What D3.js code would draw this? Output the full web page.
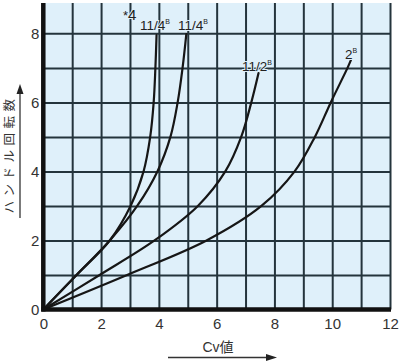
<!DOCTYPE html>
<html><head><meta charset="utf-8">
<script src="https://cdn.jsdelivr.net/npm/d3@7"></script>
<style>body{margin:0;background:#fff}svg{display:block}</style>
</head><body>
<svg id="c" width="400" height="364"></svg>
<script>
// ---- data ----
const xTicks = [0, 2, 4, 6, 8, 10, 12];
const yTicks = [0, 2, 4, 6, 8];
const gridX = [0,1,2,3,4,5,6,7,8,9,10,11,12];
const gridY = [0,1,2,3,4,5,6,7,8];
// Cv value (x) vs handle turns (y)
const s4_x    = [0, 1.15, 2.3, 3.02, 3.47, 3.7, 3.82, 3.88, 3.92];
const s4_y    = [0, 1, 2, 3, 4, 5, 6, 7, 7.95];
const s114_x  = [0, 1.15, 2.3, 3.25, 3.95, 4.4, 4.65, 4.82, 4.95];
const s114_y  = [0, 1, 2, 3, 4, 5, 6, 7, 7.98];
const s112_x  = [0, 1.95, 3.85, 5.35, 6.3, 6.85, 7.2, 7.45];
const s112_y  = [0, 1, 2, 3, 4, 5, 6, 6.85];
const s2_x    = [0, 2.9, 5.65, 7.55, 8.7, 9.4, 9.95, 10.53, 10.65];
const s2_y    = [0, 1, 2, 3, 4, 5, 6, 7, 7.23];
const labelText = ["*4", "11/4", "11/4", "11/2", "2"];
const labelSup  = ["", "B", "B", "B", "B"];
const labelX    = [2.76, 3.35, 4.66, 6.88, 10.44];
const labelY    = [8.39, 8.1, 8.1, 6.91, 7.26];
const yTitle = "ハンドル回転数";
const xTitle = "Cv値";

// ---- chart ----
const svg = d3.select("#c");
const x = d3.scaleLinear().domain([0, 12]).range([43.3, 390]);
const y = d3.scaleLinear().domain([0, 8.88]).range([309.5, 3]);
const H = y(0) - y(8.88), W = x(12) - x(0);

svg.append("rect").attr("x", x(0)).attr("y", y(8.88)).attr("width", W).attr("height", H)
  .attr("fill", "#dff0fa");

const gridColor = "#24343c";
const gx = svg.append("g").attr("transform", `translate(0,${y(0)})`)
  .call(d3.axisBottom(x).tickValues(gridX).tickSize(-H).tickFormat(""));
gx.select(".domain").remove();
gx.selectAll("line").attr("stroke", gridColor).attr("stroke-width", 2);
const gy = svg.append("g").attr("transform", `translate(${x(0)},0)`)
  .call(d3.axisLeft(y).tickValues(gridY).tickSize(-W).tickFormat(""));
gy.select(".domain").remove();
gy.selectAll("line").attr("stroke", gridColor).attr("stroke-width", 2);

// curves
const line = d3.line().x(d => x(d[0])).y(d => y(d[1])).curve(d3.curveCatmullRom.alpha(0.5));
const series = [[s4_x, s4_y], [s114_x, s114_y], [s112_x, s112_y], [s2_x, s2_y]];
series.forEach(([xs, ys]) => {
  svg.append("path").datum(xs.map((v, i) => [v, ys[i]]))
    .attr("d", line).attr("fill", "none").attr("stroke", "#161616")
    .attr("stroke-width", 2.2).attr("stroke-linecap", "round");
});

// thick axes
svg.append("line").attr("x1", x(0)).attr("x2", x(0)).attr("y1", y(8.88)).attr("y2", y(0) + 2)
  .attr("stroke", "#111").attr("stroke-width", 4.5);
svg.append("line").attr("x1", x(0) - 2).attr("x2", x(12) + 1).attr("y1", y(0)).attr("y2", y(0))
  .attr("stroke", "#111").attr("stroke-width", 4.5);

// tick labels via axes
const ax = svg.append("g").attr("transform", `translate(0,${y(0) + 3})`)
  .call(d3.axisBottom(x).tickValues(xTicks).tickSize(0).tickPadding(6).tickFormat(d3.format("d")));
ax.select(".domain").remove();
ax.selectAll("text").attr("font-family", "Liberation Sans, Arial, sans-serif")
  .attr("font-size", 15).attr("fill", "#333");
const ay = svg.append("g").attr("transform", `translate(${x(0) - 3},0)`)
  .call(d3.axisLeft(y).tickValues(yTicks).tickSize(0).tickPadding(1).tickFormat(d3.format("d")));
ay.select(".domain").remove();
ay.selectAll("text").attr("font-family", "Liberation Sans, Arial, sans-serif")
  .attr("font-size", 15).attr("fill", "#333");

// series labels
labelText.forEach((t, i) => {
  const tx = svg.append("text").attr("x", x(labelX[i])).attr("y", y(labelY[i]))
    .attr("font-family", "Liberation Sans, Arial, sans-serif")
    .attr("font-size", i === 0 ? 15 : 13.5).attr("fill", "#222");
  if (i === 0) {
    tx.append("tspan").text("*").attr("font-size", 13);
    tx.append("tspan").text("4");
  } else {
    tx.append("tspan").text(t);
    tx.append("tspan").text(labelSup[i]).attr("font-size", 7).attr("dy", -6);
  }
  tx.attr("paint-order", "stroke").attr("stroke", "#dff0fa").attr("stroke-width", 2);
});

// y title + arrow
svg.append("text").attr("transform", "translate(14,154) rotate(-90)")
  .attr("text-anchor", "middle").attr("font-family", "Noto Sans CJK JP")
  .attr("font-size", 12.5).attr("letter-spacing", 4.5).attr("fill", "#333").text(yTitle);
svg.append("line").attr("x1", 20).attr("x2", 20).attr("y1", 218).attr("y2", 92)
  .attr("stroke", "#333").attr("stroke-width", 1.3);
svg.append("path").attr("d", "M20,84 L16.5,94 L23.5,94 Z").attr("fill", "#222");

// x title + arrow
svg.append("text").attr("x", 218).attr("y", 352).attr("text-anchor", "middle")
  .attr("font-family", "Liberation Sans, Noto Sans CJK JP, sans-serif")
  .attr("font-size", 14).attr("fill", "#333").text(xTitle);
svg.append("line").attr("x1", 168).attr("x2", 268).attr("y1", 357.5).attr("y2", 357.5)
  .attr("stroke", "#333").attr("stroke-width", 1.3);
svg.append("path").attr("d", "M277,357.5 L266,354 L266,361 Z").attr("fill", "#222");
</script>
</body></html>
